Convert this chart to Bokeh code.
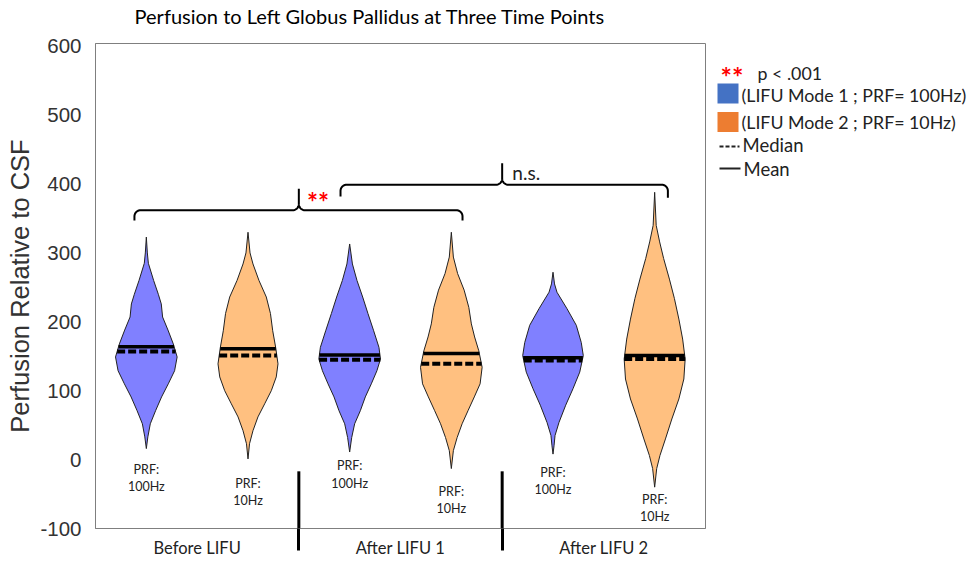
import numpy as np
from bokeh.plotting import figure
from bokeh.models import Range1d, FixedTicker, Label, LinearAxis
from bokeh.layouts import row
from bokeh.embed import file_html
from bokeh.resources import INLINE
from bokeh.core.properties import value

# ---------------- data ----------------
title_text = "Perfusion to Left Globus Pallidus at Three Time Points"
groups = ["Before LIFU", "After LIFU 1", "After LIFU 2"]
prf_labels = ["100Hz", "10Hz", "100Hz", "10Hz", "100Hz", "10Hz"]
modes = [1, 2, 1, 2, 1, 2]
means = [164, 161, 152, 154, 148, 151]
medians = [157, 151, 145, 139, 144, 146]

# violin outlines: levels (perfusion) and half-widths (fraction of slot)
v1_levels = [323, 300, 285, 260, 240, 226, 207, 188, 168, 149, 129, 110, 91, 71, 52, 33, 16]
v1_half = [0, .01, .02, .072, .118, .147, .160, .213, .265, .303, .278, .216, .150, .091, .039, .015, 0]
v2_levels = [330, 300, 284, 260, 236, 212, 187, 163, 139, 120, 100, 81, 62, 42, 23, 1]
v2_half = [0, .02, .049, .108, .18, .221, .243, .272, .295, .278, .229, .164, .098, .049, .015, 0]
v3_levels = [313, 284, 260, 236, 212, 187, 163, 146, 129, 110, 91, 71, 52, 32, 11]
v3_half = [0, .027, .072, .128, .18, .236, .288, .303, .268, .213, .154, .105, .049, .02, 0]
v4_levels = [330, 294, 270, 246, 221, 197, 178, 158, 134, 110, 91, 71, 52, 32, 13, -13]
v4_half = [0, .02, .062, .126, .172, .197, .229, .270, .303, .283, .226, .164, .106, .057, .02, 0]
v5_levels = [272, 255, 243, 219, 195, 170, 151, 127, 103, 79, 54, 35, 20, 8]
v5_half = [0, .015, .039, .138, .229, .278, .298, .263, .197, .125, .059, .02, .01, 0]
v6_levels = [388, 340, 316, 292, 262, 234, 204, 175, 146, 117, 88, 59, 30, 6, -13, -40]
v6_half = [0, .015, .049, .088, .145, .194, .238, .275, .30, .287, .238, .169, .106, .052, .02, 0]

levels = [v1_levels, v2_levels, v3_levels, v4_levels, v5_levels, v6_levels]
halves = [v1_half, v2_half, v3_half, v4_half, v5_half, v6_half]

# ---------------- styling ----------------
FILL = {1: "#8080FF", 2: "#FFC080"}
LEG = {1: "#4472C4", 2: "#ED7D31"}
FONT = "Lato"
AX = "#7f7f7f"
TXT = "#222222"

centers = [0.5 + i for i in range(6)]

p = figure(width=706, height=561, output_backend="svg", toolbar_location=None,
           x_range=Range1d(0, 6), y_range=Range1d(-100, 604),
           min_border_left=95, min_border_right=1, min_border_top=43,
           min_border_bottom=33)
p.background_fill_color = "white"
p.border_fill_color = "white"
p.outline_line_color = AX
p.grid.visible = False

p.yaxis.ticker = FixedTicker(ticks=list(range(-100, 601, 100)))
p.yaxis.major_label_overrides = {-100: "-100"}
p.yaxis.axis_label = "Perfusion Relative to CSF"
p.yaxis.axis_label_text_font = "Liberation Sans"
p.yaxis.axis_label_text_font_style = "normal"
p.yaxis.axis_label_text_font_size = "25.5px"
p.yaxis.axis_label_text_color = "#333333"
p.yaxis.axis_label_standoff = 3
p.yaxis.major_label_text_font = "Liberation Sans"
p.yaxis.major_label_text_font_size = "20.5px"
p.yaxis.major_label_text_color = "#333333"
p.yaxis.major_label_standoff = 8
p.yaxis.major_tick_line_color = None
p.yaxis.minor_tick_line_color = None
p.yaxis.axis_line_color = AX

# bottom axis: group labels on major ticks; group separators as minor ticks
xb = p.below[0]
xb.ticker = FixedTicker(ticks=[1, 3, 5], minor_ticks=[2, 4])
xb.major_label_overrides = {1: groups[0], 3: groups[1], 5: groups[2]}
xb.major_label_text_font = FONT
xb.major_label_text_font_size = "16.5px"
xb.major_label_text_color = TXT
xb.major_label_standoff = -13
xb.major_tick_line_color = None
xb.major_tick_in = 0
xb.major_tick_out = 0
xb.minor_tick_line_color = "black"
xb.minor_tick_line_width = 3
xb.minor_tick_in = 0
xb.minor_tick_out = 22
xb.axis_line_color = AX

# chart title, set above the frame and left of centre as in the original
TITLE_X = 2.70
top = LinearAxis(ticker=FixedTicker(ticks=[TITLE_X], minor_ticks=[]),
                 major_label_overrides={TITLE_X: title_text},
                 axis_line_color=None, major_tick_line_color=None,
                 minor_tick_line_color=None, major_tick_in=0, major_tick_out=0,
                 minor_tick_in=0, minor_tick_out=0,
                 major_label_standoff=16, major_label_text_font=FONT,
                 major_label_text_font_size="20px", major_label_text_color="black")
p.add_layout(top, "above")

# violins
for c, lv, hw, m, mean, med in zip(centers, levels, halves, modes, means, medians):
    lv = np.array(lv, float)
    hw = np.array(hw, float)
    xs = np.concatenate([c - hw, (c + hw)[::-1]])
    ys = np.concatenate([lv, lv[::-1]])
    p.patch(xs, ys, fill_color=FILL[m], line_color="#222222", line_width=1)
    wm = np.interp(mean, lv[::-1], hw[::-1])
    wd = np.interp(med, lv[::-1], hw[::-1])
    p.line([c - wm, c + wm], [mean, mean], line_color="black", line_width=3.5)
    p.line([c - wd, c + wd], [med, med], line_color="black", line_width=4,
           line_dash="8 3")

# PRF labels under each violin
prf_y = [-14, -34, -9, -46, -19, -58]
line_gap = 25
p.text(x=centers, y=prf_y, text=["PRF:"] * 6, text_font=value(FONT),
       text_font_size="12.5px", text_align="center", text_baseline="middle",
       text_color=TXT)
p.text(x=centers, y=[v - line_gap for v in prf_y], text=prf_labels,
       text_font=value(FONT), text_font_size="12.5px", text_align="center",
       text_baseline="middle", text_color=TXT)

# upper part of the group separators (inside the frame)
for sx in [2, 4]:
    p.line([sx, sx], [-17, -100], line_color="black", line_width=3)


# curly braces
def brace(xl, xr, xm, yb, yt, yel, yer):
    rx, ry = 0.06, 9.0
    t = np.linspace(0, np.pi / 2, 12)
    xs, ys = [], []
    xs += [xl]; ys += [yel]
    xs += list(xl + rx * (1 - np.cos(t))); ys += list(yb - ry + ry * np.sin(t))
    xs += list(xm - rx + rx * np.sin(t)); ys += list(yb + ry * (1 - np.cos(t)))
    xs += [xm]; ys += [yt]
    xs += list(xm + rx - rx * np.sin(t[::-1])); ys += list(yb + ry * (1 - np.cos(t[::-1])))
    xs += list(xr - rx * (1 - np.cos(t[::-1]))); ys += list(yb - ry + ry * np.sin(t[::-1]))
    xs += [xr]; ys += [yer]
    return xs, ys


bx, by = brace(0.383, 3.61, 2.0, 362, 393, 347, 347)
p.line(bx, by, line_color="black", line_width=2)
bx, by = brace(2.41, 5.63, 4.0, 399, 430, 382, 380)
p.line(bx, by, line_color="black", line_width=2)

p.add_layout(Label(x=2.08, y=374, text="**", text_font=FONT, text_font_size="26px",
                   text_font_style="bold", text_color="#FF0000",
                   text_baseline="alphabetic", text_align="left"))
p.add_layout(Label(x=4.1, y=417, text="n.s.", text_font=FONT, text_font_size="19px",
                   text_color=TXT, text_baseline="middle", text_align="left"))

# ---------------- legend panel (page-pixel coordinates) ----------------
q = figure(width=267, height=561, output_backend="svg", toolbar_location=None,
           x_range=Range1d(706, 973), y_range=Range1d(528, 43),
           x_axis_type=None, y_axis_type=None, min_border_left=0,
           min_border_right=0, min_border_top=43, min_border_bottom=33)
q.outline_line_color = None
q.grid.visible = False
q.background_fill_color = "white"
q.border_fill_color = "white"

q.text(x=[720], y=[76], text=["**"], text_font=value(FONT), text_font_size="27px",
       text_font_style="bold", text_color="#FF0000", text_baseline="alphabetic")
q.text(x=[757], y=[72], text=["p < .001"], text_font=value(FONT),
       text_font_size="17.8px", text_color=TXT, text_baseline="middle")
q.rect(x=[727.5, 727.5], y=[93, 121.5], width=21, height=20,
       fill_color=[LEG[1], LEG[2]], line_color=None)
q.text(x=[741, 741], y=[94, 121],
       text=["(LIFU Mode 1 ; PRF= 100Hz)", "(LIFU Mode 2 ; PRF= 10Hz)"],
       text_font=value(FONT), text_font_size="17.8px", text_color=TXT,
       text_baseline="middle")
q.line([719, 739], [146, 146], line_color=TXT, line_width=1.8, line_dash="4 2")
q.line([719, 740], [168, 168], line_color=TXT, line_width=2)
q.text(x=[742, 743], y=[144, 168], text=["Median", "Mean"], text_font=value(FONT),
       text_font_size="18.5px", text_color=TXT, text_baseline="middle")

layout = row(p, q, spacing=0)
open("out.html", "w").write(file_html(layout, INLINE))
